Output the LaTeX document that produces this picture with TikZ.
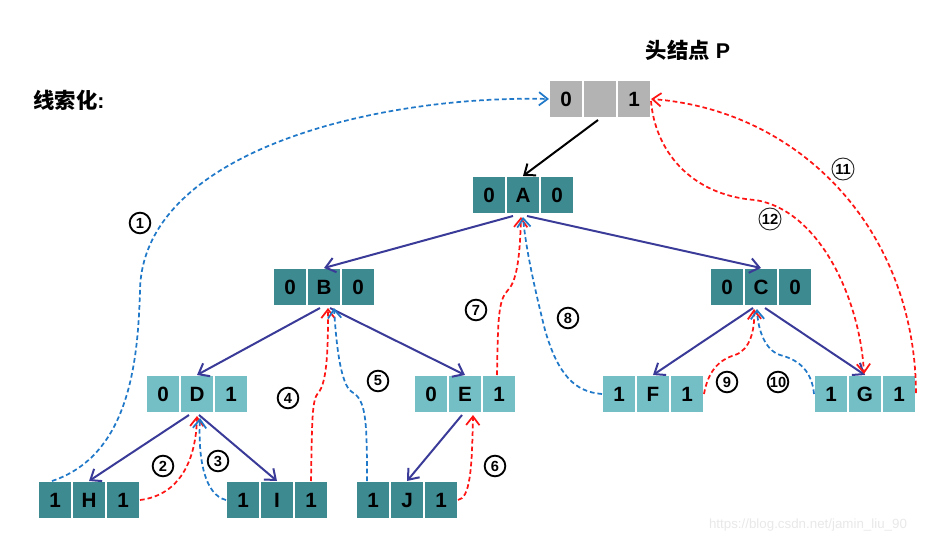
\documentclass[tikz,border=0pt]{standalone}
\usepackage{fontspec}
\setmainfont{Liberation Sans}
\newfontfamily\cjk{Noto Sans CJK SC}
\usetikzlibrary{arrows.meta,calc}
\definecolor{dteal}{HTML}{3D8A90}
\definecolor{lteal}{HTML}{74BFC5}
\definecolor{hgray}{HTML}{B3B3B3}
\definecolor{navy}{HTML}{3A3A98}
\definecolor{tblue}{HTML}{1F78C8}
\definecolor{tred}{HTML}{FF1414}
\tikzset{
  cell/.style={draw=white,line width=0.8pt,outer sep=0pt,inner sep=0pt,
    minimum width=25.5pt,minimum height=28.5pt,
    font=\fontsize{15.5}{18}\selectfont\bfseries},
  tree/.style={navy,line width=1.5pt,-{Straight Barb[length=7pt,width=11pt,line width=1.5pt]}},
  headarrow/.style={black,line width=1.5pt,-{Straight Barb[length=7pt,width=11pt,line width=1.5pt]}},
  thr/.style={dash pattern=on 3.5pt off 2.2pt,line width=1.3pt,
    -{Straight Barb[length=6.5pt,width=10pt,line width=1.3pt]}},
  redthr/.style={thr,tred},
  bluethr/.style={thr,tblue},
  circ/.style={circle,draw,line width=1.4pt,inner sep=0pt,minimum size=15.5pt,
    font=\fontsize{11}{12}\selectfont\bfseries},
  circb/.style={circle,draw=black!85,line width=0.7pt,inner sep=0pt,minimum size=16.5pt,
    font=\fontsize{11}{12}\selectfont\bfseries},
  title/.style={font=\fontsize{16}{19}\selectfont\bfseries}
}
\newcommand\trip[7]{%
  \node[cell,fill=#4] (#1) at (#2,#3) {#6};
  \node[cell,fill=#4,anchor=east] (#1-l) at (#1.west) {#5};
  \node[cell,fill=#4,anchor=west] (#1-r) at (#1.east) {#7};
}
\begin{document}
\begin{tikzpicture}[x=0.75pt,y=-0.75pt]
\useasboundingbox (0,0) rectangle (935,543);
% titles
\node[title] (ttl) at (688,50) {{\cjk\bfseries 头结点} P};
\node[title] (tl) at (69,100) {{\cjk\bfseries 线索化}:};
% nodes
\trip{P}{600}{99}{hgray}{0}{}{1}
\trip{A}{523}{195}{dteal}{0}{A}{0}
\trip{B}{324}{287}{dteal}{0}{B}{0}
\trip{C}{761}{287}{dteal}{0}{C}{0}
\trip{D}{197}{394}{lteal}{0}{D}{1}
\trip{E}{465}{394}{lteal}{0}{E}{1}
\trip{F}{653}{394}{lteal}{1}{F}{1}
\trip{G}{865}{394}{lteal}{1}{G}{1}
\trip{H}{89}{500}{dteal}{1}{H}{1}
\trip{I}{277}{500}{dteal}{1}{I}{1}
\trip{J}{407}{500}{dteal}{1}{J}{1}
% tree edges
\draw[headarrow] ($(P.south)+(-2,2)$) -- (A.north);
\draw[tree] ($(A.south)+(-10,2)$) -- (B.north);
\draw[tree] ($(A.south)+(4,2)$) -- (C.north);
\draw[tree] ($(B.south)+(-4,2)$) -- (D.north);
\draw[tree] ($(B.south)+(6,2)$) -- (E.north);
\draw[tree] ($(D.south)+(-8,2)$) -- (H.north);
\draw[tree] ($(D.south)+(2,2)$) -- (I.north);
\draw[tree] ($(E.south)+(-3,2)$) -- (J.north);
\draw[tree] ($(C.south)+(-8,2)$) -- (F.north);
\draw[tree] ($(C.south)+(4,2)$) -- (G.north);
% threads
\coordinate (t1) at (140,290);
\draw[bluethr] ($(H-l.north)+(-3,0)$) .. controls (130,455) and (138,360) .. (t1)
   .. controls (143,150) and (380,95) .. (P-l.west);
\draw[redthr] (H-r.east) .. controls (180,495) and (196,460) .. ($(D.south)+(0,3)$);
\draw[bluethr] (I-l.west) .. controls (205,495) and (198,460) .. ($(D.south)+(3,5)$);
\coordinate (t4) at (318,393);
\draw[redthr] (I-r.north) .. controls (312,420) and (312,400) .. (t4)
   .. controls (328,383) and (328,340) .. ($(B.south)+(4,2)$);
\coordinate (t5) at (352,392);
\draw[bluethr] ($(J-l.north)+(-6,0)$) .. controls (367,420) and (366,400) .. (t5)
   .. controls (340,385) and (336,340) .. ($(B.south)+(10,2)$);
\draw[redthr] (J-r.east) .. controls (470,498) and (472,470) .. ($(E.south)+(8,2)$);
\coordinate (t7) at (508,290);
\draw[redthr] ($(E-r.north)+(-2,0)$) .. controls (498,320) and (498,300) .. (t7)
   .. controls (518,280) and (520,250) .. ($(A.south)+(-2,3)$);
\coordinate (t8) at (545,330);
\draw[bluethr] (F-l.west) .. controls (575,392) and (558,375) .. (t8)
   .. controls (535,290) and (526,250) .. ($(A.south)+(0,3)$);
\coordinate (t9) at (735,355);
\draw[redthr] (F-r.east) .. controls (708,372) and (718,360) .. (t9)
   .. controls (750,350) and (755,330) .. ($(C.south)+(-7,3)$);
\coordinate (t10) at (780,355);
\draw[bluethr] (G-l.west) .. controls (812,372) and (800,360) .. (t10)
   .. controls (765,350) and (758,330) .. ($(C.south)+(-4,3)$);
\draw[redthr] ($(G-r.east)+(0,-1)$) .. controls (915,230) and (800,110) .. (P-r.east);
\coordinate (t12) at (755,200);
\draw[redthr] ($(P-r.east)+(0,2)$) .. controls (655,150) and (690,195) .. (t12)
   .. controls (820,210) and (860,300) .. ($(G.north)+(-1,-1)$);
% labels
\node[circ] (n1) at (140,223) {1};
\node[circ] (n2) at (163,466) {2};
\node[circ] (n3) at (218,461) {3};
\node[circ] (n4) at (288,398) {4};
\node[circ] (n5) at (378,381) {5};
\node[circ] (n6) at (495,466) {6};
\node[circ] (n7) at (476,310) {7};
\node[circ] (n8) at (568,318) {8};
\node[circ] (n9) at (727,382) {9};
\node[circ] (n10) at (778,382) {10};
\node[circb] (n11) at (843,169) {11};
\node[circb] (n12) at (770,219) {12};
% watermark
\node[text=black!9,font=\fontsize{10}{12}\selectfont] (wm) at (808,525) {https://blog.csdn.net/jamin\_liu\_90};
\end{tikzpicture}
\end{document}
